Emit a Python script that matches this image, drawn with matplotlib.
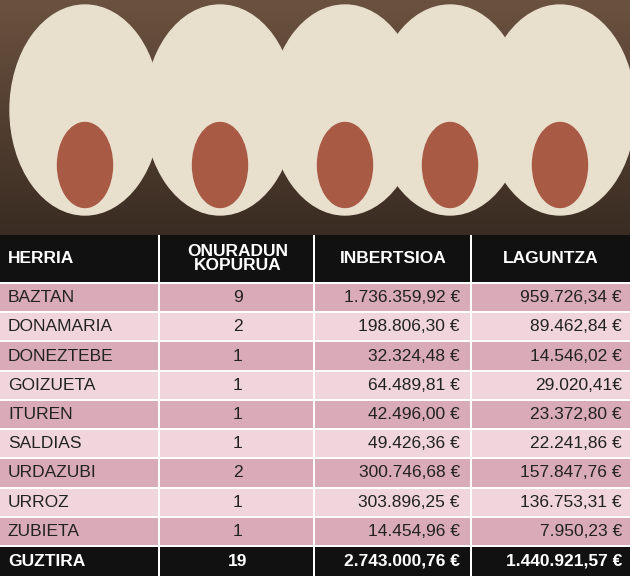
import matplotlib
matplotlib.use("Agg")
import matplotlib.pyplot as plt
from matplotlib.patches import Rectangle, Ellipse
import numpy as np

plt.rcParams['font.family'] = ['Liberation Sans', 'DejaVu Sans']

headers = ["HERRIA", "ONURADUN\nKOPURUA", "INBERTSIOA", "LAGUNTZA"]
herriak = ["BAZTAN", "DONAMARIA", "DONEZTEBE", "GOIZUETA", "ITUREN", "SALDIAS", "URDAZUBI", "URROZ", "ZUBIETA"]
kopurua = ["9", "2", "1", "1", "1", "1", "2", "1", "1"]
inbertsioa = ["1.736.359,92 €", "198.806,30 €", "32.324,48 €", "64.489,81 €", "42.496,00 €",
              "49.426,36 €", "300.746,68 €", "303.896,25 €", "14.454,96 €"]
laguntza = ["959.726,34 €", "89.462,84 €", "14.546,02 €", "29.020,41€", "23.372,80 €",
            "22.241,86 €", "157.847,76 €", "136.753,31 €", "7.950,23 €"]
guztira = ["GUZTIRA", "19", "2.743.000,76 €", "1.440.921,57 €"]

W, H = 630, 576
fig = plt.figure(figsize=(6.3, 5.76), dpi=100)
ax = fig.add_axes([0, 0, 1, 1])
ax.set_xlim(0, W); ax.set_ylim(H, 0); ax.axis("off")
fig.patch.set_facecolor("white")

grad = np.linspace(0, 1, 235)[:, None] * np.ones((1, 630))
ax.imshow(grad, cmap=matplotlib.colors.LinearSegmentedColormap.from_list("p", ["#6b5240", "#3a2c22"]),
          extent=[0, 630, 235, 0], aspect="auto", zorder=0)
for i, cx in enumerate([85, 220, 345, 450, 560]):
    ax.add_patch(Ellipse((cx, 110), 150, 210, color="#e8dfcc", zorder=1))
    ax.add_patch(Ellipse((cx, 165), 55, 85, color="#a85a45", zorder=2))

col_x = [0, 160, 315, 472, 630]
gap = 2
header_top, header_bot = 235, 282
row_h = (545 - 282) / len(herriak)
fs = 12.5

def cell(ci, y0, y1, fc):
    ax.add_patch(Rectangle((col_x[ci], y0), col_x[ci + 1] - col_x[ci] - (gap if ci < 3 else 0),
                           y1 - y0 - gap, facecolor=fc, edgecolor="none", zorder=3))

for ci, h in enumerate(headers):
    cell(ci, header_top, header_bot + gap, "#111111")
    if ci == 0:
        ax.text(col_x[0] + 8, (header_top + header_bot) / 2, h, color="white", fontsize=fs,
                fontweight="bold", va="center", ha="left", zorder=4)
    else:
        cx = (col_x[ci] + col_x[ci + 1]) / 2
        ax.text(cx, (header_top + header_bot) / 2, h, color="white", fontsize=fs, fontweight="bold",
                va="center", ha="center", linespacing=0.95, zorder=4)

for r in range(len(herriak)):
    y0 = header_bot + gap + r * row_h
    y1 = y0 + row_h
    fc = "#d9aab8" if r % 2 == 0 else "#f0d5dd"
    yc = (y0 + y1 - gap) / 2
    vals = [herriak[r], kopurua[r], inbertsioa[r], laguntza[r]]
    for ci in range(4):
        cell(ci, y0, y1, fc)
    ax.text(col_x[0] + 8, yc, vals[0], fontsize=fs, va="center", ha="left", color="#222", zorder=4)
    ax.text((col_x[1] + col_x[2]) / 2, yc, vals[1], fontsize=fs, va="center", ha="center", color="#222", zorder=4)
    ax.text(col_x[3] - 12, yc, vals[2], fontsize=fs, va="center", ha="right", color="#222", zorder=4)
    ax.text(col_x[4] - 8, yc, vals[3], fontsize=fs, va="center", ha="right", color="#222", zorder=4)

y0 = header_bot + gap + len(herriak) * row_h
for ci in range(4):
    cell(ci, y0, H + gap, "#111111")
yc = (y0 + H) / 2
ax.text(col_x[0] + 8, yc, guztira[0], fontsize=fs, fontweight="bold", color="white", va="center", zorder=4)
ax.text((col_x[1] + col_x[2]) / 2, yc, guztira[1], fontsize=fs, fontweight="bold", color="white", va="center", ha="center", zorder=4)
ax.text(col_x[3] - 12, yc, guztira[2], fontsize=fs, fontweight="bold", color="white", va="center", ha="right", zorder=4)
ax.text(col_x[4] - 8, yc, guztira[3], fontsize=fs, fontweight="bold", color="white", va="center", ha="right", zorder=4)

fig.savefig("out.png", dpi=100)
